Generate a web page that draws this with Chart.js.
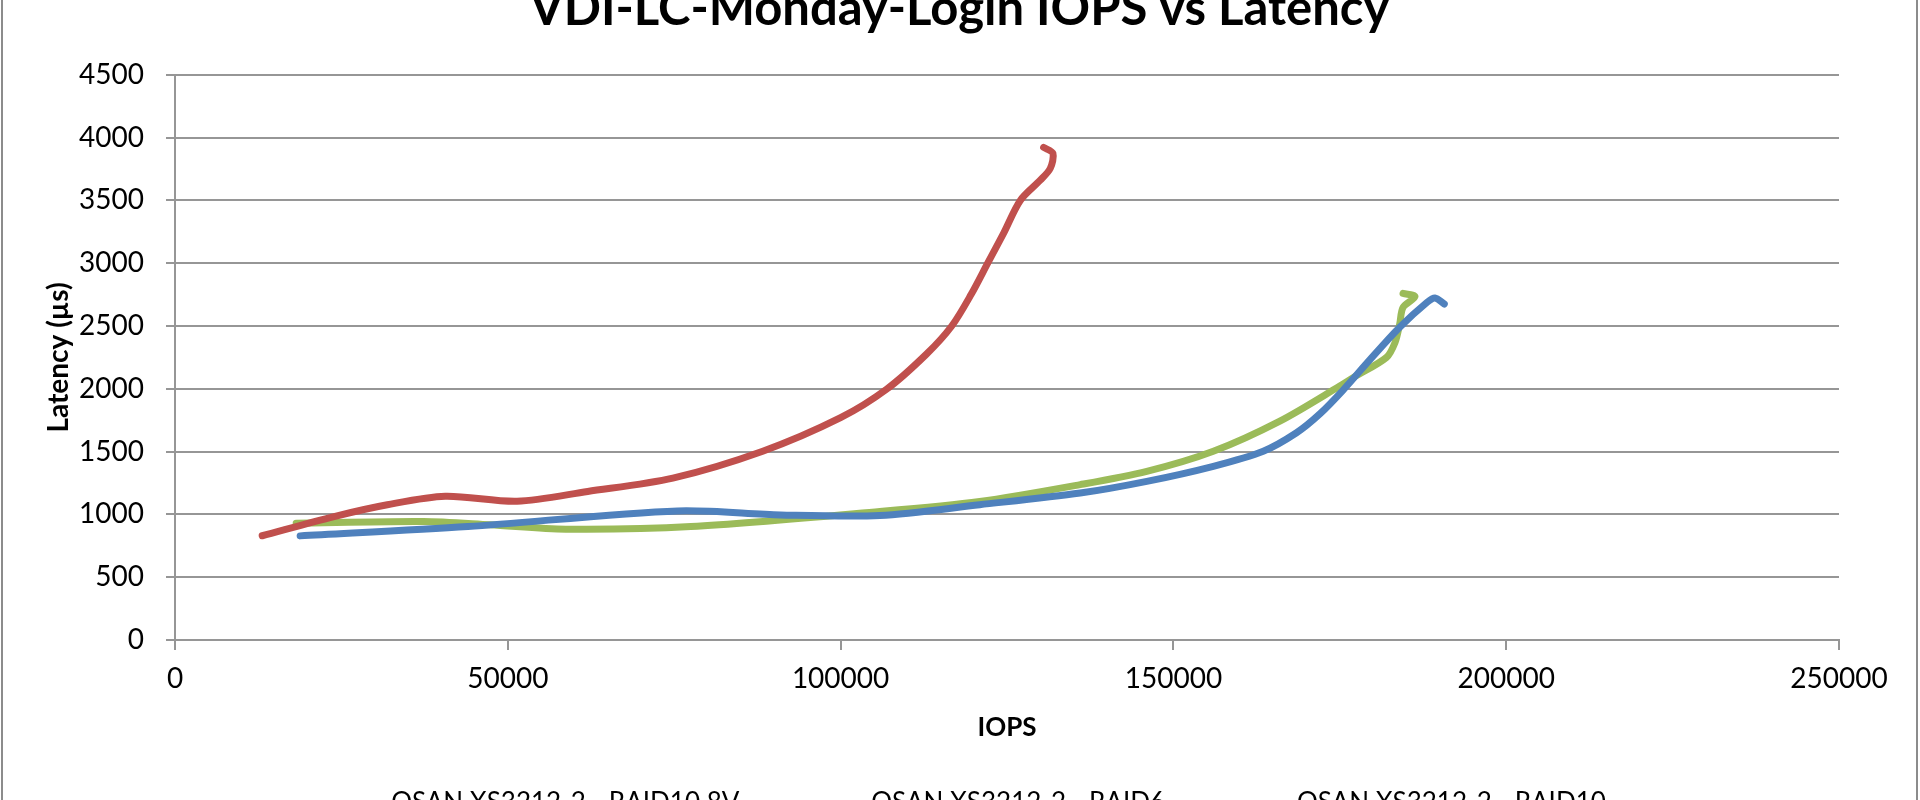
<!DOCTYPE html>
<html>
<head>
<meta charset="utf-8">
<title>VDI-LC-Monday-Login IOPS vs Latency</title>
<script src="https://cdn.jsdelivr.net/npm/chart.js@4.4.1/dist/chart.umd.min.js"></script>
<style>
  html, body { margin: 0; padding: 0; background: #fff; overflow: hidden; }
  body { width: 1920px; height: 800px; position: relative; }
  .frame {
    position: absolute; left: 1px; top: -40px;
    width: 1917px; height: 866px;
    box-sizing: border-box;
    border-left: 2px solid #8c8c8c;
    border-right: 2px solid #8c8c8c;
  }
</style>
</head>
<body>
<div class="frame"><canvas id="chart"></canvas></div>
<script>
// IOPS vs Latency, uch xil RAID konfiguratsiyasi.

const TITLE = "VDI-LC-Monday-Login IOPS vs Latency";
const SERIES_NAMES = [
  "QSAN XS3212-2 - RAID10 8V",
  "QSAN XS3212-2 - RAID6",
  "QSAN XS3212-2 - RAID10",
];

const C = {
  red:   "#C0504D",
  blue:  "#4F81BD",
  green: "#9BBB59",
  grid:  "#969696",
};

// RAID10 8V (qizil)
const red_iops = [13100, 23900, 31900, 40600, 51400, 62000, 74800, 88300, 100000, 106900,
  112900, 116700, 119600, 122100, 124500, 127000, 130000, 131500, 131900, 130500];
const red_lat = [830, 983, 1077, 1145, 1105, 1183, 1289, 1503, 1770, 1996,
  2276, 2500, 2750, 3000, 3240, 3500, 3661, 3755, 3875, 3922];

// RAID6 (ko'k)
const blue_iops = [18800, 44000, 75500, 91000, 105900, 120900, 136000, 146000, 156000,
  163500, 168500, 172000, 175500, 179500, 184000, 188100, 189300, 190700];
const blue_lat = [829, 903, 1028, 996, 991, 1077, 1170, 1263, 1383,
  1503, 1650, 1800, 1990, 2230, 2490, 2688, 2723, 2675];

// RAID10 (yashil)
const green_iops = [18200, 37300, 47300, 58700, 77500, 105900, 120900, 136000, 146000,
  156000, 166000, 175000, 177000, 182000, 183300, 184000, 184500, 186300, 184500];
const green_lat = [930, 943, 917, 882, 903, 1023, 1103, 1237, 1343,
  1503, 1743, 2022, 2089, 2249, 2369, 2516, 2648, 2734, 2760];

const X_MAX = 250000, X_STEP = 50000;
const Y_MAX = 4500, Y_STEP = 500;

const zip = (xs, ys) => xs.map((x, i) => ({ x, y: ys[i] }));

function series(label, xs, ys, color) {
  return {
    label,
    data: zip(xs, ys),
    showLine: true,
    borderColor: color,
    backgroundColor: color,
    borderWidth: 7,
    borderCapStyle: "round",
    borderJoinStyle: "round",
    tension: 0.3,
    pointRadius: 0,
    pointHoverRadius: 0,
    pointStyle: "line",
  };
}

// Legend Excel'dagidek biroz chapga siljigan
const legendShift = {
  id: "legendShift",
  afterLayout(chart) {
    const lg = chart.legend;
    if (!lg) return;
    lg.left -= 22;
    lg.right -= 22;
  },
};

const FONT = "Lato, 'Open Sans', sans-serif";
Chart.defaults.font.family = FONT;
Chart.defaults.color = "#000";

new Chart(document.getElementById("chart"), {
  type: "scatter",
  data: {
    datasets: [
      series(SERIES_NAMES[0], red_iops, red_lat, C.red),
      series(SERIES_NAMES[1], blue_iops, blue_lat, C.blue),
      series(SERIES_NAMES[2], green_iops, green_lat, C.green),
    ],
  },
  plugins: [legendShift],
  options: {
    responsive: true,
    maintainAspectRatio: false,
    animation: false,
    layout: { padding: 0 },
    plugins: {
      title: {
        display: true,
        text: TITLE,
        font: { size: 49, weight: "bold" },
        color: "#000",
        padding: { top: 20, bottom: 36 },
      },
      legend: {
        position: "bottom",
        labels: {
          font: { size: 26 },
          color: "#000",
          usePointStyle: true,
          pointStyle: "line",
          pointStyleWidth: 109,
          boxHeight: 26,
          padding: 10,
          generateLabels: (chart) =>
            Chart.defaults.plugins.legend.labels.generateLabels(chart)
              .map((l) => ({ ...l, lineWidth: 3 })),
        },
      },
      tooltip: { enabled: false },
    },
    scales: {
      x: {
        type: "linear",
        min: 0,
        max: X_MAX,
        ticks: { stepSize: X_STEP, font: { size: 28 }, color: "#000", padding: 12, maxRotation: 0,
          callback: (v) => String(v) },
        grid: { drawOnChartArea: false, drawTicks: true, tickLength: 10, color: C.grid, lineWidth: 2 },
        border: { color: C.grid, width: 2 },
        title: { display: true, text: "IOPS", font: { size: 26, weight: "bold" }, color: "#000",
          padding: { top: 0, bottom: 37 } },
        afterFit: (s) => { s.height = 140; },
      },
      y: {
        type: "linear",
        min: 0,
        max: Y_MAX,
        ticks: { stepSize: Y_STEP, font: { size: 28 }, color: "#000", padding: 22,
          callback: (v) => String(v) },
        grid: { color: C.grid, lineWidth: 2, tickLength: 9 },
        border: { color: C.grid, width: 2 },
        title: { display: true, text: "Latency (µs)", font: { size: 28, weight: "bold" }, color: "#000",
          padding: { top: 39, bottom: 0 } },
        afterFit: (s) => { s.width = 172; },
      },
      // o'ng tomonda bo'sh joy (sarlavha va legend markazda qolishi uchun)
      yRight: {
        type: "linear",
        position: "right",
        min: 0,
        max: Y_MAX,
        ticks: { display: false },
        grid: { display: false },
        border: { display: false },
        afterFit: (s) => { s.width = 77; },
      },
    },
  },
});
</script>
</body>
</html>
